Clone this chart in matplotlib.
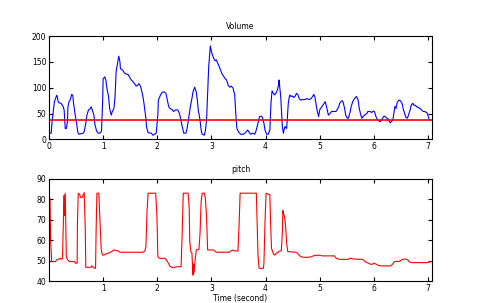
import matplotlib; matplotlib.use('Agg')
import matplotlib.pyplot as plt

plt.rcParams.update({'font.size': 5.5, 'font.family': 'DejaVu Sans'})
BLUE, RED = '#0000ff', '#ff0000'

# volume contour (time in s, value)
vol_t = [0.00, 0.04, 0.06, 0.09, 0.10, 0.12, 0.14, 0.15, 0.17, 0.18, 0.22, 0.26, 0.28, 0.30, 0.32,
         0.34, 0.35, 0.37, 0.39, 0.42, 0.44, 0.45, 0.48, 0.51, 0.53, 0.55, 0.63, 0.65, 0.68, 0.70,
         0.73, 0.75, 0.78, 0.80, 0.83, 0.85, 0.88, 0.91, 0.94, 0.97, 0.99, 1.00, 1.03, 1.05, 1.07,
         1.10, 1.12, 1.15, 1.17, 1.20, 1.22, 1.23, 1.24, 1.27, 1.29, 1.31, 1.32, 1.36, 1.39, 1.43,
         1.46, 1.49, 1.52, 1.55, 1.58, 1.61, 1.64, 1.66, 1.69, 1.71, 1.73, 1.75, 1.77, 1.79, 1.80,
         1.83, 1.89, 1.92, 1.95, 1.98, 2.01, 2.02, 2.06, 2.09, 2.13, 2.16, 2.18, 2.21, 2.23, 2.27,
         2.30, 2.34, 2.38, 2.41, 2.43, 2.46, 2.49, 2.53, 2.55, 2.58, 2.61, 2.64, 2.66, 2.69, 2.72,
         2.74, 2.76, 2.77, 2.79, 2.81, 2.83, 2.87, 2.89, 2.91, 2.93, 2.95, 2.97, 2.98, 3.00, 3.02,
         3.04, 3.07, 3.09, 3.12, 3.14, 3.17, 3.19, 3.22, 3.25, 3.28, 3.31, 3.34, 3.37, 3.40, 3.43,
         3.45, 3.47, 3.51, 3.54, 3.59, 3.62, 3.65, 3.67, 3.70, 3.72, 3.76, 3.80, 3.82, 3.845, 3.87,
         3.89, 3.92, 3.94, 3.97, 3.99, 4.02, 4.05, 4.08, 4.10, 4.12, 4.14, 4.17, 4.19, 4.22, 4.24,
         4.25, 4.26, 4.28, 4.30, 4.31, 4.33, 4.34, 4.36, 4.39, 4.40, 4.42, 4.44, 4.45, 4.47, 4.50,
         4.52, 4.55, 4.57, 4.60, 4.62, 4.65, 4.68, 4.73, 4.76, 4.81, 4.84, 4.87, 4.89, 4.91, 4.93,
         4.95, 4.98, 5.00, 5.03, 5.06, 5.10, 5.11, 5.14, 5.16, 5.19, 5.22, 5.26, 5.30, 5.32, 5.35,
         5.37, 5.41, 5.43, 5.46, 5.48, 5.51, 5.53, 5.56, 5.58, 5.61, 5.63, 5.66, 5.68, 5.71, 5.73,
         5.76, 5.78, 5.80, 5.83, 5.87, 5.89, 5.93, 5.96, 5.99, 6.01, 6.04, 6.06, 6.09, 6.11, 6.14,
         6.16, 6.19, 6.21, 6.24, 6.27, 6.30, 6.32, 6.35, 6.37, 6.39, 6.41, 6.43, 6.46, 6.49, 6.52,
         6.54, 6.57, 6.59, 6.62, 6.64, 6.67, 6.69, 6.72, 6.74, 6.77, 6.79, 6.82, 6.85, 6.88, 6.91,
         6.94, 6.97, 6.99, 7.02, 7.04]
vol_v = [12, 12, 37, 63, 73, 79, 85, 84, 73, 71, 70, 64, 57, 21, 21,
         34, 63, 73, 76, 87, 85, 73, 50, 31, 15, 10, 12, 15, 31, 47,
         57, 58, 63, 57, 47, 28, 16, 12, 12, 16, 70, 117, 121, 115, 99,
         83, 60, 47, 54, 60, 83, 105, 131, 150, 161, 150, 137, 134, 129, 126,
         126, 120, 115, 112, 108, 103, 105, 108, 103, 95, 86, 73, 57, 41, 25,
         13, 12, 8, 10, 12, 47, 76, 86, 91, 92, 89, 79, 64, 60, 58,
         54, 57, 57, 50, 41, 25, 12, 12, 21, 41, 63, 79, 92, 101, 92,
         76, 54, 50, 37, 18, 10, 8, 18, 37, 89, 141, 166, 181, 170, 163,
         157, 152, 154, 147, 142, 134, 128, 123, 118, 115, 105, 101, 103, 99, 86,
         50, 21, 13, 10, 10, 12, 16, 18, 13, 10, 12, 10, 15, 25, 36,
         44, 45, 43, 31, 18, 10, 10, 18, 70, 94, 90, 86, 89, 96, 105,
         115, 103, 83, 44, 25, 12, 18, 25, 21, 37, 70, 83, 86, 83, 84,
         81, 84, 89, 86, 79, 76, 77, 77, 79, 77, 79, 83, 87, 83, 70,
         57, 44, 57, 62, 66, 73, 70, 57, 47, 50, 54, 54, 54, 57, 63,
         70, 75, 73, 60, 47, 41, 41, 52, 63, 73, 77, 81, 83, 76, 60,
         47, 41, 44, 47, 50, 54, 54, 52, 55, 54, 44, 39, 37, 34, 37,
         41, 45, 44, 41, 39, 32, 34, 37, 50, 64, 60, 71, 76, 75, 70,
         60, 50, 43, 41, 47, 57, 66, 70, 66, 66, 63, 62, 60, 57, 54,
         54, 52, 50, 39, 37]
vol_threshold = 37

# pitch contour (time in s, semitone value)
pitch_t = [0.00, 0.02, 0.03, 0.05, 0.12, 0.14, 0.17, 0.20, 0.23, 0.25, 0.26, 0.28, 0.285, 0.30, 0.31,
           0.32, 0.345, 0.38, 0.47, 0.49, 0.52, 0.525, 0.54, 0.57, 0.58, 0.62, 0.63, 0.65, 0.67, 0.68,
           0.77, 0.79, 0.81, 0.84, 0.86, 0.87, 0.885, 0.92, 0.95, 0.965, 0.99, 1.01, 1.05, 1.09, 1.13,
           1.17, 1.20, 1.23, 1.28, 1.31, 1.40, 1.55, 1.74, 1.77, 1.79, 1.81, 1.83, 1.97, 1.99, 2.00,
           2.01, 2.04, 2.14, 2.17, 2.20, 2.23, 2.26, 2.32, 2.37, 2.44, 2.46, 2.48, 2.57, 2.59, 2.60,
           2.62, 2.64, 2.65, 2.66, 2.67, 2.68, 2.70, 2.72, 2.77, 2.79, 2.81, 2.83, 2.87, 2.89, 2.91,
           2.93, 3.04, 3.06, 3.09, 3.32, 3.36, 3.40, 3.42, 3.49, 3.51, 3.53, 3.83, 3.84, 3.86, 3.88,
           3.96, 3.97, 3.99, 4.01, 4.03, 4.08, 4.09, 4.11, 4.13, 4.15, 4.17, 4.20, 4.23, 4.26, 4.29,
           4.31, 4.32, 4.33, 4.35, 4.37, 4.39, 4.41, 4.45, 4.51, 4.56, 4.59, 4.62, 4.65, 4.71, 4.79,
           4.85, 4.88, 4.93, 5.00, 5.05, 5.27, 5.29, 5.31, 5.37, 5.53, 5.55, 5.58, 5.61, 5.74, 5.79,
           5.82, 5.85, 5.90, 5.94, 5.97, 6.00, 6.04, 6.07, 6.11, 6.16, 6.30, 6.33, 6.36, 6.38, 6.42,
           6.48, 6.51, 6.54, 6.57, 6.60, 6.63, 6.65, 6.67, 6.69, 6.78, 6.90, 6.99, 7.02, 7.04]
pitch_v = [83.3, 79, 60, 49.5, 49.5, 50.3, 50.6, 51.1, 50.6, 51.1, 63.4, 82, 72, 83, 66.6,
           52, 50.3, 49.5, 49.5, 48.7, 48.7, 67.5, 83, 82.2, 81, 81, 82.2, 83.3, 65.8, 46.7,
           46.7, 47.4, 47, 46.2, 46.2, 64.2, 83, 83, 64.2, 55.2, 52.7, 52.7, 53.2, 53.6, 54,
           54.7, 55.2, 55, 54.7, 54.1, 54.1, 54.1, 54.1, 54.7, 56.8, 73.5, 83, 83, 74, 65,
           52, 51.1, 51.1, 50.3, 49, 47.4, 46.7, 46.7, 47, 47, 63.4, 83, 83, 75.6, 59.3,
           54.4, 53.6, 48.7, 42.9, 48.3, 44.1, 50.3, 55.2, 55.5, 63.4, 78.9, 83, 83, 80, 71.5,
           55.2, 55.2, 54.7, 54.1, 54.1, 54.7, 55.2, 54.7, 54.7, 66.6, 83, 83, 73.2, 52.7, 46.2,
           46.2, 48.7, 69.1, 83, 82.7, 82.2, 70.7, 56, 54.4, 53.1, 52.7, 53.6, 54.1, 54.7, 54.7,
           63.4, 74.5, 73.2, 71.5, 67, 58.5, 54.4, 54.4, 54.1, 54.1, 53.6, 52.7, 51.9, 51.6, 51.6,
           51.9, 52.3, 52.6, 52.6, 52.3, 52.3, 51.6, 51, 50.6, 50.6, 51.1, 51.1, 50.8, 50.6, 50.6,
           50, 49.3, 48.7, 48.2, 48.2, 48.7, 48.3, 47.8, 47.5, 47.4, 47.4, 47.8, 48.7, 49.5, 49.6,
           49.6, 50.3, 50.6, 50.8, 50.6, 50.3, 49.5, 49.2, 49, 49, 49, 49, 49.2, 49.5]

fig = plt.figure(figsize=(4.87, 3.03), dpi=100)
ax1 = fig.add_axes([0.1006, 0.540, 0.786, 0.341])
ax2 = fig.add_axes([0.1006, 0.0726, 0.786, 0.337])

ax1.plot(vol_t, vol_v, color=BLUE, lw=0.8)
ax1.axhline(vol_threshold, color=RED, lw=1.2)
ax1.set_xlim(0, 7.07)
ax1.set_ylim(0, 200)
ax1.set_xticks(range(0, 8))
ax1.set_yticks(range(0, 201, 50))
ax1.set_title('Volume', fontsize=5.5, pad=5)

ax2.plot(pitch_t, pitch_v, color=RED, lw=0.8)
ax2.set_xlim(0, 7.07)
ax2.set_ylim(40, 90)
ax2.set_xticks(range(1, 8))
ax2.set_yticks(range(40, 91, 10))
ax2.set_title('pitch', fontsize=5.5, pad=5)
ax2.set_xlabel('Time (second)', labelpad=1)

for ax in (ax1, ax2):
    ax.tick_params(direction='in', length=3, width=0.8, top=True, right=True, pad=2)
    for s in ax.spines.values():
        s.set_linewidth(0.8)

fig.savefig('out.png', dpi=100)
